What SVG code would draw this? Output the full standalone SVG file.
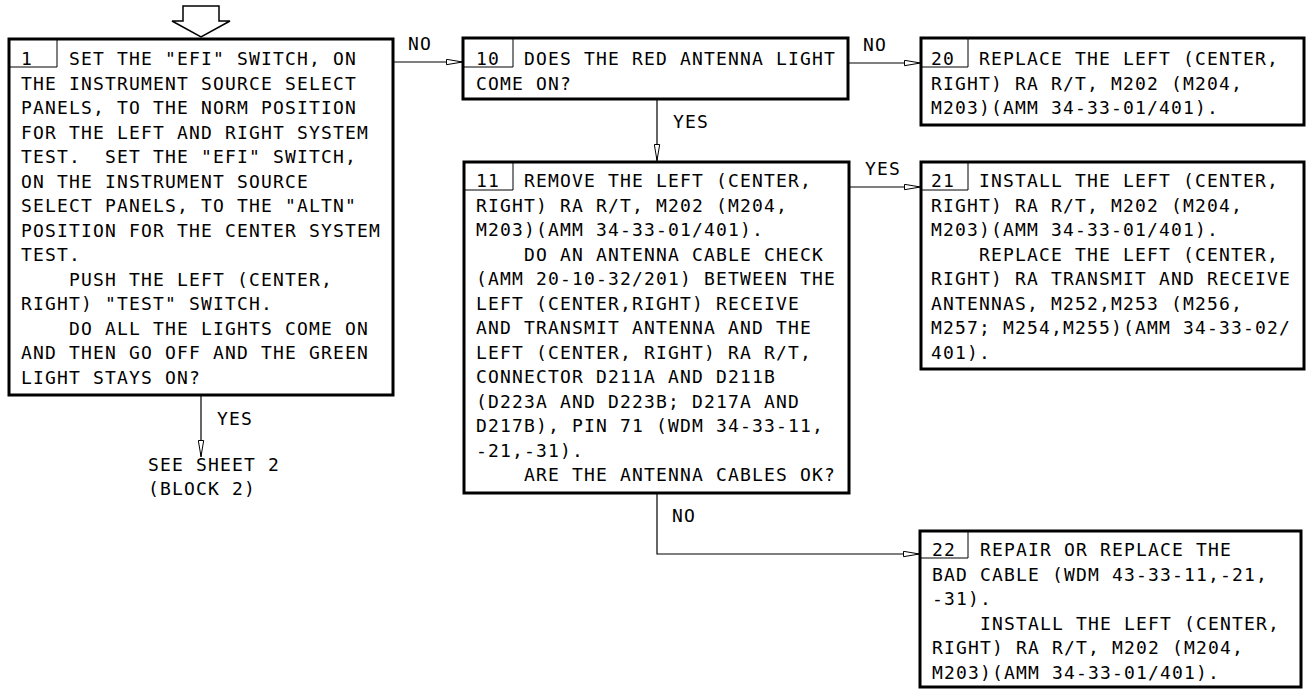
<svg xmlns="http://www.w3.org/2000/svg" width="1307" height="689" viewBox="0 0 1307 689">
<style>
text{font-family:"DejaVu Sans Mono","Liberation Mono",monospace;font-size:18px;letter-spacing:1.16px;fill:#000;white-space:pre}
.box{fill:#fff;stroke:#000;stroke-width:3}
.cell{fill:none;stroke:#000;stroke-width:1}
.con{fill:none;stroke:#000;stroke-width:1.2}
</style>
<defs>
<marker id="ah" viewBox="0 0 17 7" refX="17" refY="3.5" markerWidth="17" markerHeight="7" markerUnits="userSpaceOnUse" orient="auto">
<path d="M0.5,0.8 L16.5,3.5 L0.5,6.2 Z" fill="#fff" stroke="#000" stroke-width="1"/>
</marker>
</defs>
<rect width="1307" height="689" fill="#fff"/>
<polygon id="entry" points="183,6 219,6 219,21 230,21 201,37 172,21 183,21" fill="#fff" stroke="#000" stroke-width="1.5"/>
<g id="connectors">
<line class="con" x1="394" y1="62" x2="463" y2="62" marker-end="url(#ah)"/>
<line class="con" x1="848" y1="63" x2="921" y2="63" marker-end="url(#ah)"/>
<line class="con" x1="657" y1="99" x2="657" y2="161" marker-end="url(#ah)"/>
<line class="con" x1="849" y1="187" x2="921" y2="187" marker-end="url(#ah)"/>
<line class="con" x1="201" y1="395" x2="201" y2="457" marker-end="url(#ah)"/>
<polyline class="con" points="657,493 657,554 920,554" marker-end="url(#ah)"/>
<text x="408" y="50">NO</text>
<text x="863" y="51">NO</text>
<text x="673" y="128">YES</text>
<text x="865" y="175">YES</text>
<text x="217" y="425">YES</text>
<text x="672" y="522">NO</text>
<text x="148" y="471">SEE SHEET 2</text>
<text x="148" y="495">(BLOCK 2)</text>
</g>
<g id="n1">
<rect class="box" x="9" y="39" width="384" height="356"/>
<path class="cell" d="M9,67 H57 V39"/>
<text x="21" y="65">1</text>
<text x="69" y="65">SET THE "EFI" SWITCH, ON</text>
<text x="21" y="89.5">THE INSTRUMENT SOURCE SELECT</text>
<text x="21" y="114">PANELS, TO THE NORM POSITION</text>
<text x="21" y="138.5">FOR THE LEFT AND RIGHT SYSTEM</text>
<text x="21" y="163">TEST.  SET THE "EFI" SWITCH,</text>
<text x="21" y="187.5">ON THE INSTRUMENT SOURCE</text>
<text x="21" y="212">SELECT PANELS, TO THE "ALTN"</text>
<text x="21" y="236.5">POSITION FOR THE CENTER SYSTEM</text>
<text x="21" y="261">TEST.</text>
<text x="69" y="285.5">PUSH THE LEFT (CENTER,</text>
<text x="21" y="310">RIGHT) "TEST" SWITCH.</text>
<text x="69" y="334.5">DO ALL THE LIGHTS COME ON</text>
<text x="21" y="359">AND THEN GO OFF AND THE GREEN</text>
<text x="21" y="383.5">LIGHT STAYS ON?</text>
</g>
<g id="n10">
<rect class="box" x="463" y="38" width="385" height="61"/>
<path class="cell" d="M463,67 H513 V38"/>
<text x="476" y="65">10</text>
<text x="524" y="65">DOES THE RED ANTENNA LIGHT</text>
<text x="476" y="89.5">COME ON?</text>
</g>
<g id="n11">
<rect class="box" x="464" y="162" width="385" height="331"/>
<path class="cell" d="M464,190 H513 V162"/>
<text x="476" y="187">11</text>
<text x="524" y="187">REMOVE THE LEFT (CENTER,</text>
<text x="476" y="211.5">RIGHT) RA R/T, M202 (M204,</text>
<text x="476" y="236">M203)(AMM 34-33-01/401).</text>
<text x="524" y="260.5">DO AN ANTENNA CABLE CHECK</text>
<text x="476" y="285">(AMM 20-10-32/201) BETWEEN THE</text>
<text x="476" y="309.5">LEFT (CENTER,RIGHT) RECEIVE</text>
<text x="476" y="334">AND TRANSMIT ANTENNA AND THE</text>
<text x="476" y="358.5">LEFT (CENTER, RIGHT) RA R/T,</text>
<text x="476" y="383">CONNECTOR D211A AND D211B</text>
<text x="476" y="407.5">(D223A AND D223B; D217A AND</text>
<text x="476" y="432">D217B), PIN 71 (WDM 34-33-11,</text>
<text x="476" y="456.5">-21,-31).</text>
<text x="524" y="481">ARE THE ANTENNA CABLES OK?</text>
</g>
<g id="n20">
<rect class="box" x="921" y="38" width="383" height="87"/>
<path class="cell" d="M921,67 H968 V38"/>
<text x="931" y="65">20</text>
<text x="979" y="65">REPLACE THE LEFT (CENTER,</text>
<text x="931" y="89.5">RIGHT) RA R/T, M202 (M204,</text>
<text x="931" y="114">M203)(AMM 34-33-01/401).</text>
</g>
<g id="n21">
<rect class="box" x="921" y="162" width="383" height="207"/>
<path class="cell" d="M921,190 H968 V162"/>
<text x="931" y="187">21</text>
<text x="979" y="187">INSTALL THE LEFT (CENTER,</text>
<text x="931" y="211.5">RIGHT) RA R/T, M202 (M204,</text>
<text x="931" y="236">M203)(AMM 34-33-01/401).</text>
<text x="979" y="260.5">REPLACE THE LEFT (CENTER,</text>
<text x="931" y="285">RIGHT) RA TRANSMIT AND RECEIVE</text>
<text x="931" y="309.5">ANTENNAS, M252,M253 (M256,</text>
<text x="931" y="334">M257; M254,M255)(AMM 34-33-02/</text>
<text x="931" y="358.5">401).</text>
</g>
<g id="n22">
<rect class="box" x="920" y="531" width="381" height="156"/>
<path class="cell" d="M920,558 H968 V531"/>
<text x="932" y="556">22</text>
<text x="980" y="556">REPAIR OR REPLACE THE</text>
<text x="932" y="580.5">BAD CABLE (WDM 43-33-11,-21,</text>
<text x="932" y="605">-31).</text>
<text x="980" y="629.5">INSTALL THE LEFT (CENTER,</text>
<text x="932" y="654">RIGHT) RA R/T, M202 (M204,</text>
<text x="932" y="678.5">M203)(AMM 34-33-01/401).</text>
</g>
</svg>
